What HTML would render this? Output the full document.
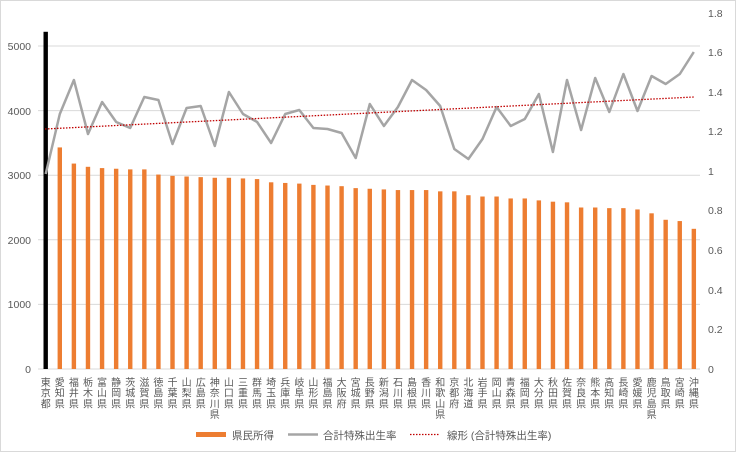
<!DOCTYPE html>
<html><head><meta charset="utf-8"><style>
body{margin:0;background:#fff}
svg{display:block;font-family:"Liberation Sans","Noto Sans CJK JP",sans-serif}
</style></head><body>
<svg id="c" width="736" height="452" viewBox="0 0 736 452" xmlns="http://www.w3.org/2000/svg">
<rect x="0.5" y="0.5" width="735" height="451" fill="#fff" stroke="#d9d9d9"/>
<g stroke="#d9d9d9" stroke-width="1">
<line x1="38" x2="700" y1="304.4" y2="304.4"/><line x1="38" x2="700" y1="239.8" y2="239.8"/>
<line x1="38" x2="700" y1="175.2" y2="175.2"/><line x1="38" x2="700" y1="110.6" y2="110.6"/>
<line x1="38" x2="700" y1="46" y2="46"/><line x1="38" x2="700" y1="369" y2="369"/>
</g>
<g font-size="10.5" fill="#595959" text-anchor="end">
<text x="31" y="373">0</text><text x="31" y="308">1000</text><text x="31" y="244">2000</text>
<text x="31" y="179">3000</text><text x="31" y="115">4000</text><text x="31" y="50">5000</text>
</g>
<g font-size="10.5" fill="#595959">
<text x="708" y="373">0</text><text x="708" y="333">0.2</text><text x="708" y="294">0.4</text>
<text x="708" y="254">0.6</text><text x="708" y="214">0.8</text><text x="708" y="175">1</text>
<text x="708" y="135">1.2</text><text x="708" y="96">1.4</text><text x="708" y="56">1.6</text><text x="708" y="17">1.8</text>
</g>
<g id="bars"></g>
<g id="labels" font-size="10" fill="#595959" text-anchor="middle"></g>
<polyline id="tfr" fill="none" stroke="#a5a5a5" stroke-width="2.5" stroke-linejoin="round"/>
<line x1="45" y1="129" x2="694" y2="97" stroke="#c00000" stroke-width="1.3" stroke-dasharray="1.5,1.5"/>
<rect x="196" y="432" width="30" height="5" fill="#ed7d31"/>
<text x="232" y="439" font-size="10.5" fill="#595959">県民所得</text>
<line x1="288" y1="434.5" x2="318" y2="434.5" stroke="#a5a5a5" stroke-width="2.5"/>
<text x="323" y="439" font-size="10.5" fill="#595959">合計特殊出生率</text>
<line x1="410" y1="434.5" x2="440" y2="434.5" stroke="#c00000" stroke-width="1.3" stroke-dasharray="1.5,1.5"/>
<text x="447" y="439" font-size="10.5" fill="#595959">線形 (合計特殊出生率)</text>
</svg>
<script>
var names=["東京都","愛知県","福井県","栃木県","富山県","静岡県","茨城県","滋賀県","徳島県","千葉県","山梨県","広島県","神奈川県","山口県","三重県","群馬県","埼玉県","兵庫県","岐阜県","山形県","福島県","大阪府","宮城県","長野県","新潟県","石川県","島根県","香川県","和歌山県","京都府","北海道","岩手県","岡山県","青森県","福岡県","大分県","秋田県","佐賀県","奈良県","熊本県","高知県","長崎県","愛媛県","鹿児島県","鳥取県","宮崎県","沖縄県"];
var v=[5220,3430,3180,3130,3110,3100,3090,3090,3010,2990,2980,2970,2960,2960,2950,2940,2890,2880,2870,2850,2840,2830,2800,2790,2780,2770,2770,2770,2750,2750,2690,2670,2670,2640,2640,2610,2590,2580,2500,2500,2490,2490,2470,2410,2310,2290,2170];
var ty=[174,114,80,134,102,122,128,97,100,144,108,106,146,92,114,122,143,114,110,128,129,133,158,104,126,107,80,90,106,149,159,139,107,126,119,94,152,80,130,78,112,74,111,76,84,74,52];
var ns="http://www.w3.org/2000/svg",b=document.getElementById("bars"),l=document.getElementById("labels"),pts=[];
for(var i=0;i<47;i++){var x=45.7+i*14.09;var h=v[i]*0.0646;
var r=document.createElementNS(ns,"rect");r.setAttribute("x",x-2.2);r.setAttribute("width",4.4);r.setAttribute("y",369-h);r.setAttribute("height",h);r.setAttribute("fill",i==0?"#000":"#ed7d31");b.appendChild(r);
for(var j=0;j<names[i].length;j++){var t=document.createElementNS(ns,"text");t.setAttribute("x",x);t.setAttribute("y",386+j*10.7);t.textContent=names[i][j];l.appendChild(t);}
pts.push(x.toFixed(1)+","+ty[i]);}
document.getElementById("tfr").setAttribute("points",pts.join(" "));
</script>
</body></html>
